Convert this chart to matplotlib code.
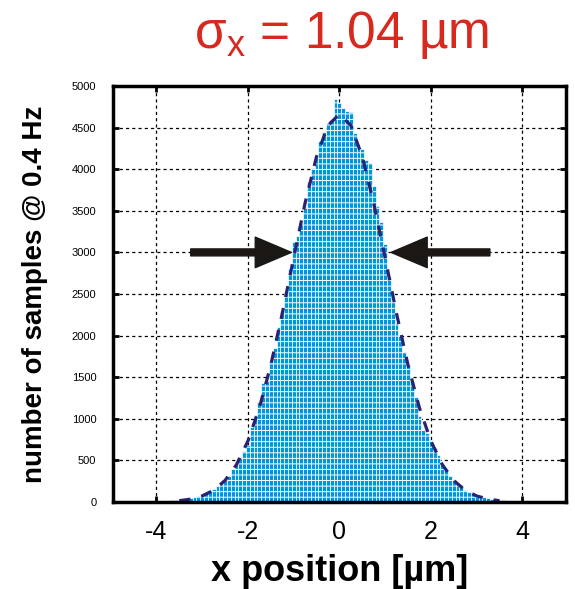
import numpy as np
import matplotlib
matplotlib.use('Agg')
import matplotlib.pyplot as plt

plt.rcParams['font.family'] = ['Liberation Sans', 'DejaVu Sans']
plt.rcParams['mathtext.fontset'] = 'custom'
plt.rcParams['mathtext.rm'] = 'Liberation Sans'
plt.rcParams['mathtext.it'] = 'Liberation Sans'
plt.rcParams['hatch.linewidth'] = 0.7

# histogram bins: width 1/12 um, centres from -4.5 to 4.5
bin_width = 1 / 12
bin_centers = np.arange(-54, 55) * bin_width
counts = [
    0, 3, 4, 5, 6, 8, 10, 12, 14, 18, 20, 24, 30, 34, 40, 48, 58, 70,
    82, 100, 130, 160, 190, 230, 270, 310, 400, 470, 545, 610, 690, 900,
    1050, 1200, 1430, 1460, 1700, 1850, 2100, 2300, 2500, 2800, 3130, 3200,
    3350, 3550, 3850, 4020, 4150, 4340, 4450, 4560, 4600, 4840,
    4790,
    4730, 4700, 4690, 4430, 4260, 4240, 4110, 4080, 3800, 3560, 3370, 3100,
    2700, 2400, 2150, 2000, 1800, 1650, 1450, 1260, 1030, 870, 830, 750,
    650, 560, 450, 390, 310, 270, 225, 180, 150, 115, 95, 84, 70, 55, 46,
    40, 32, 26, 22, 18, 15, 12, 10, 8, 6, 5, 4, 3, 2, 0,
]

# gaussian fit
fit_x = np.arange(-14, 15) * 0.25
fit_y = [16, 35, 73, 141, 259, 449, 733, 1131, 1647, 2263, 2935, 3593, 4152, 4527,
         4660,
         4527, 4152, 3593, 2935, 2263, 1647, 1131, 733, 449, 259, 141, 73, 35, 16]

xticks = [-4, -2, 0, 2, 4]
yticks = list(range(0, 5001, 500))

fig = plt.figure(figsize=(5.75, 5.89), dpi=100)
ax = fig.add_axes([0.1965, 0.1477, 0.7875, 0.7063])

ax.bar(bin_centers, counts, width=bin_width, color='#0096dc', edgecolor='white',
       linewidth=0.5, hatch='---', zorder=2)
ax.plot(fit_x, fit_y, color='#2a2272', lw=2.3, dashes=(3.5, 3.5), zorder=3)

# FWHM arrows
arrow = dict(facecolor='#1a1714', edgecolor='#1a1714', width=5, headwidth=22, headlength=26)
ax.annotate('', xy=(-1.05, 3000), xytext=(-3.25, 3000), arrowprops=arrow, zorder=4)
ax.annotate('', xy=(1.13, 3000), xytext=(3.29, 3000), arrowprops=arrow, zorder=4)

ax.set_xlim(-4.95, 4.95)
ax.set_ylim(0, 5000)
ax.set_xticks(xticks)
ax.set_yticks(yticks)
ax.set_xticklabels([str(t) for t in xticks], fontsize=18)
ax.set_yticklabels([str(t) for t in yticks], fontsize=8)
ax.tick_params(axis='x', direction='in', length=4, width=2, top=True, pad=13)
ax.tick_params(axis='y', direction='in', length=4, width=2, right=True, pad=12)
ax.grid(True, color='black', linestyle=(0, (2.5, 2.5)), linewidth=0.9, zorder=1)
ax.set_axisbelow(True)
for s in ax.spines.values():
    s.set_linewidth(2.5)
    s.set_zorder(5)

ax.set_xlabel('x position [µm]', fontsize=26, fontweight='bold', labelpad=7)
ax.set_ylabel('number of samples @ 0.4 Hz', fontsize=20, fontweight='bold', labelpad=17)
fig.text(0.595, 0.94, r'$\mathregular{\sigma_x}$ = 1.04 µm', color='#d8291f', fontsize=37,
         ha='center', va='center')

fig.savefig('out.png', dpi=100)
